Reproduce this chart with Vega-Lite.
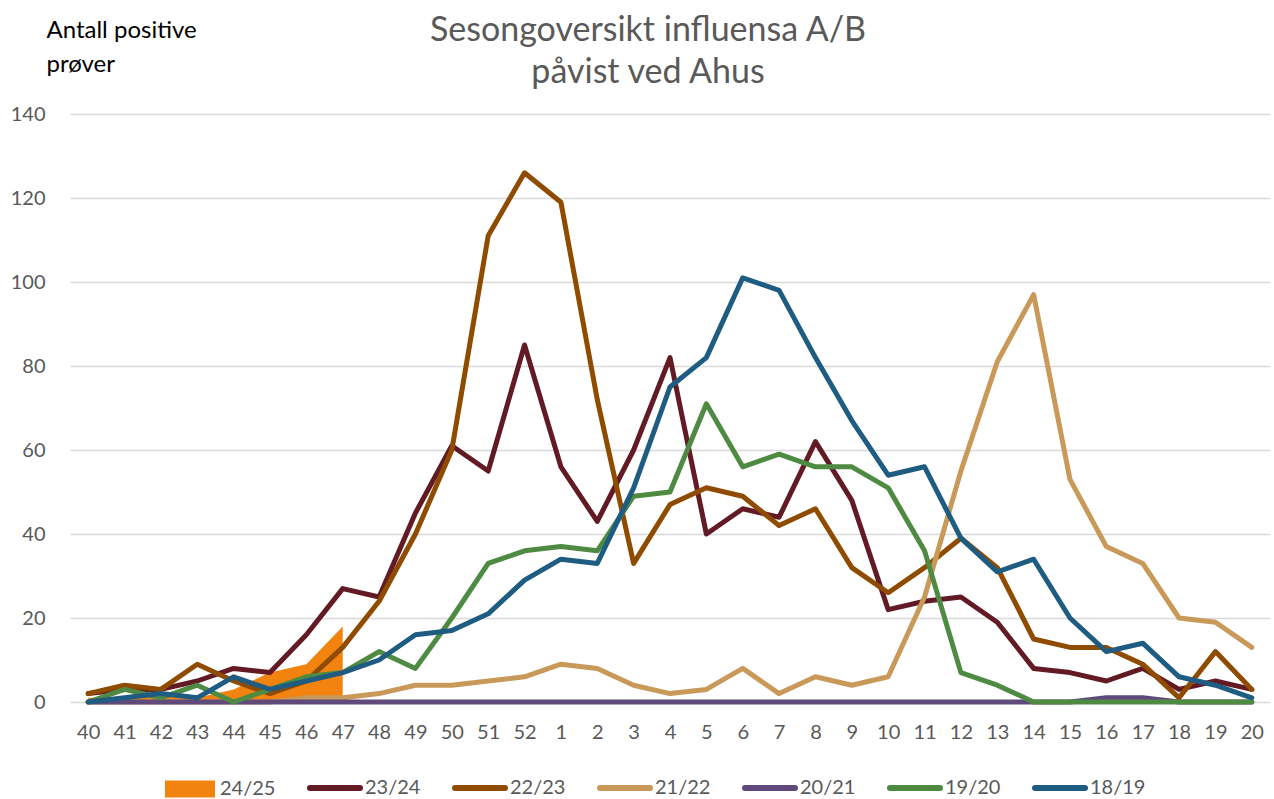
{
  "$schema": "https://vega.github.io/schema/vega-lite/v6.json",
  "width": 1200,
  "height": 588,
  "autosize": "none",
  "padding": {"left": 70, "top": 114, "right": 4, "bottom": 97},
  "config": {"view": {"stroke": null}, "font": "Lato"},
  "title": {
    "text": ["Sesongoversikt influensa A/B", "påvist ved Ahus"],
    "fontSize": 34,
    "fontWeight": "normal",
    "color": "#595959",
    "anchor": "middle",
    "frame": "group",
    "lineHeight": 42,
    "offset": -72,
    "dx": -22
  },
  "datasets": {
    "cur": [
      {"week": "40", "season": "24/25", "value": 1},
      {"week": "41", "season": "24/25", "value": 1},
      {"week": "42", "season": "24/25", "value": 2},
      {"week": "43", "season": "24/25", "value": 1},
      {"week": "44", "season": "24/25", "value": 3},
      {"week": "45", "season": "24/25", "value": 7},
      {"week": "46", "season": "24/25", "value": 9},
      {"week": "47", "season": "24/25", "value": 18}
    ],
    "past": [
      {"week": "40", "season": "23/24", "value": 2}, {"week": "41", "season": "23/24", "value": 3}, {"week": "42", "season": "23/24", "value": 3}, {"week": "43", "season": "23/24", "value": 5}, {"week": "44", "season": "23/24", "value": 8}, {"week": "45", "season": "23/24", "value": 7}, {"week": "46", "season": "23/24", "value": 16}, {"week": "47", "season": "23/24", "value": 27}, {"week": "48", "season": "23/24", "value": 25}, {"week": "49", "season": "23/24", "value": 45}, {"week": "50", "season": "23/24", "value": 61}, {"week": "51", "season": "23/24", "value": 55}, {"week": "52", "season": "23/24", "value": 85},
      {"week": "1", "season": "23/24", "value": 56}, {"week": "2", "season": "23/24", "value": 43}, {"week": "3", "season": "23/24", "value": 60}, {"week": "4", "season": "23/24", "value": 82}, {"week": "5", "season": "23/24", "value": 40}, {"week": "6", "season": "23/24", "value": 46}, {"week": "7", "season": "23/24", "value": 44}, {"week": "8", "season": "23/24", "value": 62}, {"week": "9", "season": "23/24", "value": 48}, {"week": "10", "season": "23/24", "value": 22}, {"week": "11", "season": "23/24", "value": 24}, {"week": "12", "season": "23/24", "value": 25}, {"week": "13", "season": "23/24", "value": 19}, {"week": "14", "season": "23/24", "value": 8}, {"week": "15", "season": "23/24", "value": 7}, {"week": "16", "season": "23/24", "value": 5}, {"week": "17", "season": "23/24", "value": 8}, {"week": "18", "season": "23/24", "value": 3}, {"week": "19", "season": "23/24", "value": 5}, {"week": "20", "season": "23/24", "value": 3},

      {"week": "40", "season": "22/23", "value": 2}, {"week": "41", "season": "22/23", "value": 4}, {"week": "42", "season": "22/23", "value": 3}, {"week": "43", "season": "22/23", "value": 9}, {"week": "44", "season": "22/23", "value": 5}, {"week": "45", "season": "22/23", "value": 2}, {"week": "46", "season": "22/23", "value": 5}, {"week": "47", "season": "22/23", "value": 13}, {"week": "48", "season": "22/23", "value": 24}, {"week": "49", "season": "22/23", "value": 40}, {"week": "50", "season": "22/23", "value": 60}, {"week": "51", "season": "22/23", "value": 111}, {"week": "52", "season": "22/23", "value": 126},
      {"week": "1", "season": "22/23", "value": 119}, {"week": "2", "season": "22/23", "value": 72}, {"week": "3", "season": "22/23", "value": 33}, {"week": "4", "season": "22/23", "value": 47}, {"week": "5", "season": "22/23", "value": 51}, {"week": "6", "season": "22/23", "value": 49}, {"week": "7", "season": "22/23", "value": 42}, {"week": "8", "season": "22/23", "value": 46}, {"week": "9", "season": "22/23", "value": 32}, {"week": "10", "season": "22/23", "value": 26}, {"week": "11", "season": "22/23", "value": 32}, {"week": "12", "season": "22/23", "value": 39}, {"week": "13", "season": "22/23", "value": 32}, {"week": "14", "season": "22/23", "value": 15}, {"week": "15", "season": "22/23", "value": 13}, {"week": "16", "season": "22/23", "value": 13}, {"week": "17", "season": "22/23", "value": 9}, {"week": "18", "season": "22/23", "value": 1}, {"week": "19", "season": "22/23", "value": 12}, {"week": "20", "season": "22/23", "value": 3},

      {"week": "40", "season": "21/22", "value": 0}, {"week": "41", "season": "21/22", "value": 0}, {"week": "42", "season": "21/22", "value": 0}, {"week": "43", "season": "21/22", "value": 0}, {"week": "44", "season": "21/22", "value": 0}, {"week": "45", "season": "21/22", "value": 0}, {"week": "46", "season": "21/22", "value": 1}, {"week": "47", "season": "21/22", "value": 1}, {"week": "48", "season": "21/22", "value": 2}, {"week": "49", "season": "21/22", "value": 4}, {"week": "50", "season": "21/22", "value": 4}, {"week": "51", "season": "21/22", "value": 5}, {"week": "52", "season": "21/22", "value": 6},
      {"week": "1", "season": "21/22", "value": 9}, {"week": "2", "season": "21/22", "value": 8}, {"week": "3", "season": "21/22", "value": 4}, {"week": "4", "season": "21/22", "value": 2}, {"week": "5", "season": "21/22", "value": 3}, {"week": "6", "season": "21/22", "value": 8}, {"week": "7", "season": "21/22", "value": 2}, {"week": "8", "season": "21/22", "value": 6}, {"week": "9", "season": "21/22", "value": 4}, {"week": "10", "season": "21/22", "value": 6}, {"week": "11", "season": "21/22", "value": 25}, {"week": "12", "season": "21/22", "value": 55}, {"week": "13", "season": "21/22", "value": 81}, {"week": "14", "season": "21/22", "value": 97}, {"week": "15", "season": "21/22", "value": 53}, {"week": "16", "season": "21/22", "value": 37}, {"week": "17", "season": "21/22", "value": 33}, {"week": "18", "season": "21/22", "value": 20}, {"week": "19", "season": "21/22", "value": 19}, {"week": "20", "season": "21/22", "value": 13},

      {"week": "40", "season": "20/21", "value": 0}, {"week": "41", "season": "20/21", "value": 0}, {"week": "42", "season": "20/21", "value": 0}, {"week": "43", "season": "20/21", "value": 0}, {"week": "44", "season": "20/21", "value": 0}, {"week": "45", "season": "20/21", "value": 0}, {"week": "46", "season": "20/21", "value": 0}, {"week": "47", "season": "20/21", "value": 0}, {"week": "48", "season": "20/21", "value": 0}, {"week": "49", "season": "20/21", "value": 0}, {"week": "50", "season": "20/21", "value": 0}, {"week": "51", "season": "20/21", "value": 0}, {"week": "52", "season": "20/21", "value": 0},
      {"week": "1", "season": "20/21", "value": 0}, {"week": "2", "season": "20/21", "value": 0}, {"week": "3", "season": "20/21", "value": 0}, {"week": "4", "season": "20/21", "value": 0}, {"week": "5", "season": "20/21", "value": 0}, {"week": "6", "season": "20/21", "value": 0}, {"week": "7", "season": "20/21", "value": 0}, {"week": "8", "season": "20/21", "value": 0}, {"week": "9", "season": "20/21", "value": 0}, {"week": "10", "season": "20/21", "value": 0}, {"week": "11", "season": "20/21", "value": 0}, {"week": "12", "season": "20/21", "value": 0}, {"week": "13", "season": "20/21", "value": 0}, {"week": "14", "season": "20/21", "value": 0}, {"week": "15", "season": "20/21", "value": 0}, {"week": "16", "season": "20/21", "value": 1}, {"week": "17", "season": "20/21", "value": 1}, {"week": "18", "season": "20/21", "value": 0}, {"week": "19", "season": "20/21", "value": 0}, {"week": "20", "season": "20/21", "value": 0},

      {"week": "40", "season": "19/20", "value": 0}, {"week": "41", "season": "19/20", "value": 3}, {"week": "42", "season": "19/20", "value": 1}, {"week": "43", "season": "19/20", "value": 4}, {"week": "44", "season": "19/20", "value": 0}, {"week": "45", "season": "19/20", "value": 3}, {"week": "46", "season": "19/20", "value": 6}, {"week": "47", "season": "19/20", "value": 7}, {"week": "48", "season": "19/20", "value": 12}, {"week": "49", "season": "19/20", "value": 8}, {"week": "50", "season": "19/20", "value": 20}, {"week": "51", "season": "19/20", "value": 33}, {"week": "52", "season": "19/20", "value": 36},
      {"week": "1", "season": "19/20", "value": 37}, {"week": "2", "season": "19/20", "value": 36}, {"week": "3", "season": "19/20", "value": 49}, {"week": "4", "season": "19/20", "value": 50}, {"week": "5", "season": "19/20", "value": 71}, {"week": "6", "season": "19/20", "value": 56}, {"week": "7", "season": "19/20", "value": 59}, {"week": "8", "season": "19/20", "value": 56}, {"week": "9", "season": "19/20", "value": 56}, {"week": "10", "season": "19/20", "value": 51}, {"week": "11", "season": "19/20", "value": 36}, {"week": "12", "season": "19/20", "value": 7}, {"week": "13", "season": "19/20", "value": 4}, {"week": "14", "season": "19/20", "value": 0}, {"week": "15", "season": "19/20", "value": 0}, {"week": "16", "season": "19/20", "value": 0}, {"week": "17", "season": "19/20", "value": 0}, {"week": "18", "season": "19/20", "value": 0}, {"week": "19", "season": "19/20", "value": 0}, {"week": "20", "season": "19/20", "value": 0},

      {"week": "40", "season": "18/19", "value": 0}, {"week": "41", "season": "18/19", "value": 1}, {"week": "42", "season": "18/19", "value": 2}, {"week": "43", "season": "18/19", "value": 1}, {"week": "44", "season": "18/19", "value": 6}, {"week": "45", "season": "18/19", "value": 3}, {"week": "46", "season": "18/19", "value": 5}, {"week": "47", "season": "18/19", "value": 7}, {"week": "48", "season": "18/19", "value": 10}, {"week": "49", "season": "18/19", "value": 16}, {"week": "50", "season": "18/19", "value": 17}, {"week": "51", "season": "18/19", "value": 21}, {"week": "52", "season": "18/19", "value": 29},
      {"week": "1", "season": "18/19", "value": 34}, {"week": "2", "season": "18/19", "value": 33}, {"week": "3", "season": "18/19", "value": 51}, {"week": "4", "season": "18/19", "value": 75}, {"week": "5", "season": "18/19", "value": 82}, {"week": "6", "season": "18/19", "value": 101}, {"week": "7", "season": "18/19", "value": 98}, {"week": "8", "season": "18/19", "value": 82}, {"week": "9", "season": "18/19", "value": 67}, {"week": "10", "season": "18/19", "value": 54}, {"week": "11", "season": "18/19", "value": 56}, {"week": "12", "season": "18/19", "value": 39}, {"week": "13", "season": "18/19", "value": 31}, {"week": "14", "season": "18/19", "value": 34}, {"week": "15", "season": "18/19", "value": 20}, {"week": "16", "season": "18/19", "value": 12}, {"week": "17", "season": "18/19", "value": 14}, {"week": "18", "season": "18/19", "value": 6}, {"week": "19", "season": "18/19", "value": 4}, {"week": "20", "season": "18/19", "value": 1}
    ]
  },
  "encoding": {
    "x": {
      "field": "week",
      "type": "ordinal",
      "sort": null,
      "scale": {"domain": ["40","41","42","43","44","45","46","47","48","49","50","51","52","1","2","3","4","5","6","7","8","9","10","11","12","13","14","15","16","17","18","19","20"], "type": "point", "padding": 0.5},
      "axis": {"title": null, "domain": false, "ticks": false, "labelAngle": 0, "labelFontSize": 20, "labelColor": "#595959", "labelPadding": 20, "grid": false}
    },
    "y": {
      "field": "value",
      "type": "quantitative",
      "scale": {"domain": [0, 140]},
      "axis": {
        "values": [0, 20, 40, 60, 80, 100, 120, 140],
        "domain": false, "ticks": false,
        "gridColor": "#D9D9D9", "gridWidth": 1.5,
        "labelFontSize": 20, "labelColor": "#595959", "labelPadding": 25,
        "title": ["Antall positive", "prøver"],
        "titleAngle": 0, "titleAlign": "left", "titleBaseline": "top",
        "titleX": -24, "titleY": -96,
        "titleFontSize": 24, "titleFontWeight": "normal", "titleColor": "#000000",
        "titleLineHeight": 34
      }
    },
    "color": {
      "field": "season",
      "type": "nominal",
      "scale": {
        "domain": ["24/25", "23/24", "22/23", "21/22", "20/21", "19/20", "18/19"],
        "range": ["#F2830F", "#621B24", "#8F4B00", "#C9995A", "#604A7B", "#4F8A43", "#1F5C82"]
      },
      "legend": {
        "title": null,
        "orient": "none",
        "direction": "horizontal",
        "legendX": 110,
        "legendY": 664,
        "labelFontSize": 20,
        "labelColor": "#595959",
        "symbolSize": 2500,
        "labelOffset": 20,
        "columnPadding": 22,
        "encode": {
          "symbols": {
            "update": {
              "shape": {"signal": "datum.label === '24/25' ? 'M-1,-0.34H1V0.34H-1Z' : 'stroke'"},
              "fill": {"signal": "datum.label === '24/25' ? '#F2830F' : 'transparent'"},
              "strokeWidth": {"signal": "datum.label === '24/25' ? 0 : 6"},
              "strokeCap": {"value": "round"}
            }
          }
        }
      }
    }
  },
  "layer": [
    {
      "data": {"name": "cur"},
      "mark": {"type": "area", "opacity": 1}
    },
    {
      "data": {"name": "past"},
      "mark": {"type": "line", "strokeWidth": 5, "strokeJoin": "round", "strokeCap": "round"}
    }
  ]
}
